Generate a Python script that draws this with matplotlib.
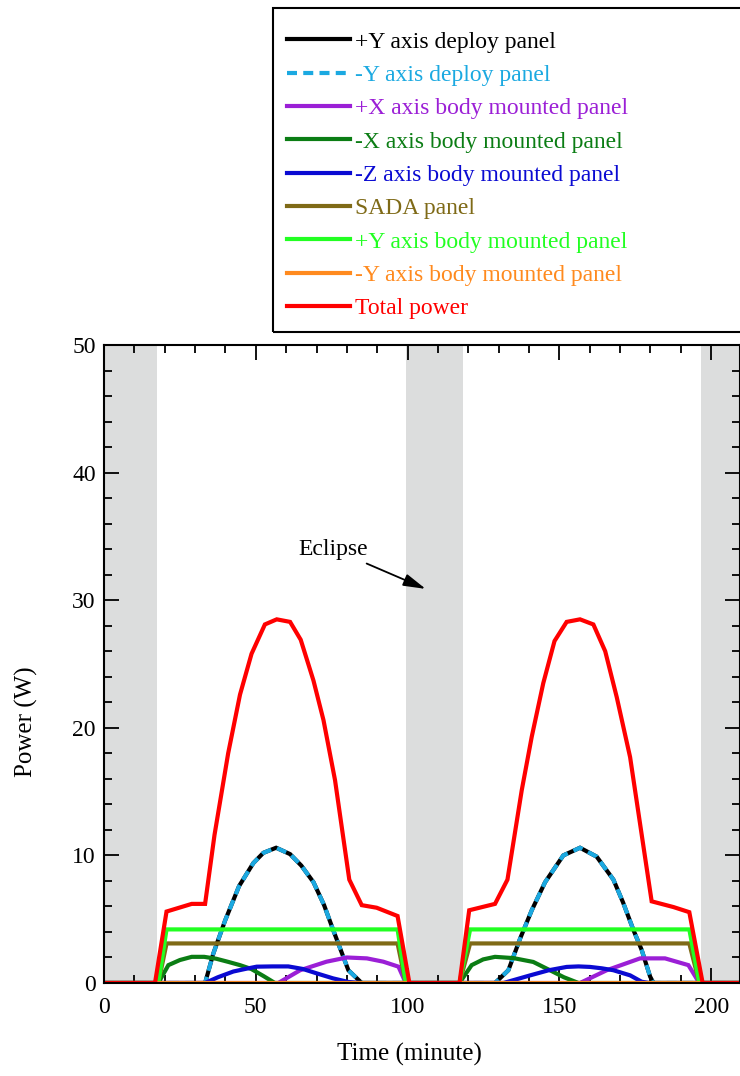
import matplotlib
matplotlib.use("Agg")
import matplotlib.pyplot as plt
from matplotlib.patches import Rectangle
from matplotlib.ticker import MultipleLocator

plt.rcParams['font.family'] = ['Liberation Serif', 'DejaVu Serif']

# Eclipse periods (minute)
eclipse_start = [0, 99.5, 196.7]
eclipse_end = [17.5, 118.3, 212]

# +Y / -Y axis deploy panels (both curves lie on top of each other)
deploy_t = [0, 33.3, 36.0, 39.9, 44.5, 49.2, 52.5, 56.7, 61.3, 65.0, 69.0, 72.5, 75.5, 80.5, 84.9,
            128.8, 133.2, 137.1, 140.9, 145.3, 151.3, 156.8, 162.3, 167.8, 171.0, 174.4, 177.1, 179.9, 181.0, 212]
deploy_plus_y = [0, 0, 2.3, 4.9, 7.6, 9.4, 10.2, 10.6, 10.1, 9.2, 7.9, 6.1, 4.15, 1.0, 0,
                 0, 1.0, 3.5, 5.7, 7.9, 10.0, 10.6, 9.9, 8.1, 6.3, 4.15, 2.6, 0.5, 0, 0]
deploy_minus_y = [0, 0, 2.3, 4.9, 7.6, 9.4, 10.2, 10.6, 10.1, 9.2, 7.9, 6.1, 4.15, 1.0, 0,
                  0, 1.0, 3.5, 5.7, 7.9, 10.0, 10.6, 9.9, 8.1, 6.3, 4.15, 2.6, 0.5, 0, 0]

# +X axis body mounted panel
px_t = [0, 57.4, 64.6, 73.3, 80.0, 86.6, 92.0, 97.0, 99.4, 156.8, 165.6, 176.6, 184.8, 192.5, 196.1, 212]
px_p = [0, 0, 1.0, 1.67, 2.0, 1.93, 1.67, 1.28, 0, 0, 1.0, 1.93, 1.93, 1.4, 0, 0]

# -X axis body mounted panel
mx_t = [0, 17.9, 21.2, 25.0, 28.9, 33.0, 37.0, 41.0, 44.8, 48.5, 52.5, 56.3,
        117.1, 121.1, 124.9, 128.8, 134.9, 141.4, 146.9, 151.5, 156.3, 212]
mx_p = [0, 0, 1.4, 1.8, 2.05, 2.05, 1.9, 1.65, 1.4, 1.1, 0.55, 0,
        0, 1.4, 1.85, 2.05, 1.95, 1.65, 1.0, 0.45, 0, 0]

# -Z axis body mounted panel
mz_t = [0, 33.3, 37.5, 42.6, 46.5, 50.3, 55.5, 60.7, 65.5, 70.0, 75.5, 80.5, 84.9,
        131.6, 136.0, 140.4, 146.5, 152.4, 156.3, 160.1, 164.0, 167.8, 173.3, 177.1, 179.6, 212]
mz_p = [0, 0, 0.45, 0.9, 1.1, 1.28, 1.3, 1.3, 1.1, 0.76, 0.36, 0.08, 0,
        0, 0.3, 0.6, 1.0, 1.26, 1.3, 1.26, 1.15, 1.0, 0.6, 0.1, 0, 0]

# SADA panel and +Y axis body mounted panel
flat_t = [0, 17.9, 20.6, 96.7, 99.4, 117.1, 120.6, 192.8, 196.1, 212]
sada_p = [0, 0, 3.1, 3.1, 0, 0, 3.1, 3.1, 0, 0]
py_body_p = [0, 0, 4.2, 4.2, 0, 0, 4.2, 4.2, 0, 0]

# -Y axis body mounted panel
my_t = [0, 212]
my_p = [0, 0]

# Total power
total_t = [0, 16.8, 20.6, 28.9, 33.3, 36.4, 40.9, 44.8, 48.6, 53.0, 56.9, 61.3, 64.8, 69.0, 72.3,
           76.1, 80.8, 84.9, 89.8, 96.7, 100.6, 117.1, 120.3, 128.8, 132.9, 137.6, 140.9, 144.7,
           148.4, 152.4, 156.8, 161.2, 165.1, 168.9, 173.3, 180.4, 187.6, 192.8, 197.2, 212]
total_p = [0, 0, 5.6, 6.2, 6.2, 11.6, 18.0, 22.6, 25.8, 28.1, 28.5, 28.3, 26.9, 23.7, 20.6,
           15.9, 8.1, 6.1, 5.9, 5.25, 0, 0, 5.7, 6.2, 8.1, 15.1, 19.3, 23.5,
           26.8, 28.3, 28.5, 28.1, 26.0, 22.4, 17.7, 6.4, 5.95, 5.55, 0, 0]

W, H = 740, 1076
fig = plt.figure(figsize=(W / 100, H / 100), dpi=100)
ax = fig.add_axes([104 / W, 1 - 983 / H, 636 / W, 638 / H])

for s, e in zip(eclipse_start, eclipse_end):
    ax.axvspan(s, e, color='#dcdddd', lw=0, zorder=0)

lw = 3
series = [
    (deploy_t, deploy_plus_y, '+Y axis deploy panel', 'black', '-'),
    (deploy_t, deploy_minus_y, '-Y axis deploy panel', '#1ba9e1', (0, (2.4, 1.5))),
    (px_t, px_p, '+X axis body mounted panel', '#9b1fd6', '-'),
    (mx_t, mx_p, '-X axis body mounted panel', '#0b7d14', '-'),
    (mz_t, mz_p, '-Z axis body mounted panel', '#0a0ad2', '-'),
    (flat_t, sada_p, 'SADA panel', '#7f6a17', '-'),
    (flat_t, py_body_p, '+Y axis body mounted panel', '#22ff22', '-'),
    (my_t, my_p, '-Y axis body mounted panel', '#ff8a1e', '-'),
    (total_t, total_p, 'Total power', '#ff0000', '-'),
]
for t, p, label, color, ls in series:
    ax.plot(t, p, color=color, ls=ls, lw=lw, label=label, solid_joinstyle='miter')

ax.set_xlim(0, 209.5)
ax.set_ylim(0, 50)
ax.xaxis.set_major_locator(MultipleLocator(50))
ax.xaxis.set_minor_locator(MultipleLocator(10))
ax.yaxis.set_major_locator(MultipleLocator(10))
ax.yaxis.set_minor_locator(MultipleLocator(2))
ax.tick_params(which='both', direction='in', top=True, right=True, labelsize=17, width=1.3)
ax.tick_params(which='major', length=11)
ax.tick_params(which='minor', length=6)
ax.tick_params(axis='x', which='major', pad=10)
ax.tick_params(axis='y', which='major', pad=6)
for sp in ax.spines.values():
    sp.set_linewidth(1.5)

ax.set_xlabel('Time (minute)', fontsize=18)
ax.set_ylabel('Power (W)', fontsize=18)
ax.xaxis.set_label_coords(0.48, -0.094)
ax.yaxis.set_label_coords(-0.104, 0.41)

ax.annotate('Eclipse', xy=(106.8, 30.8), xytext=(75.5, 34.0), fontsize=17, va='center', ha='center',
            arrowprops=dict(arrowstyle='-|>,head_length=0.8,head_width=0.22', color='black', lw=1.3))

# legend sits above the axes, its box runs off the right edge
leg = ax.legend(loc='upper left', bbox_to_anchor=(287 / W, 1 - 31 / H),
                bbox_transform=fig.transFigure, fontsize=17, frameon=False,
                handlelength=2.65, handletextpad=0.22, labelspacing=0.5,
                borderpad=0, borderaxespad=0)
for txt, (_, _, _, color, _) in zip(leg.get_texts(), series):
    txt.set_color(color)
fig.add_artist(Rectangle((273 / W, 1 - 332 / H), 0.7, 324 / H, transform=fig.transFigure,
                         fill=False, edgecolor='black', lw=1.5))

fig.savefig('out.png', dpi=100)
